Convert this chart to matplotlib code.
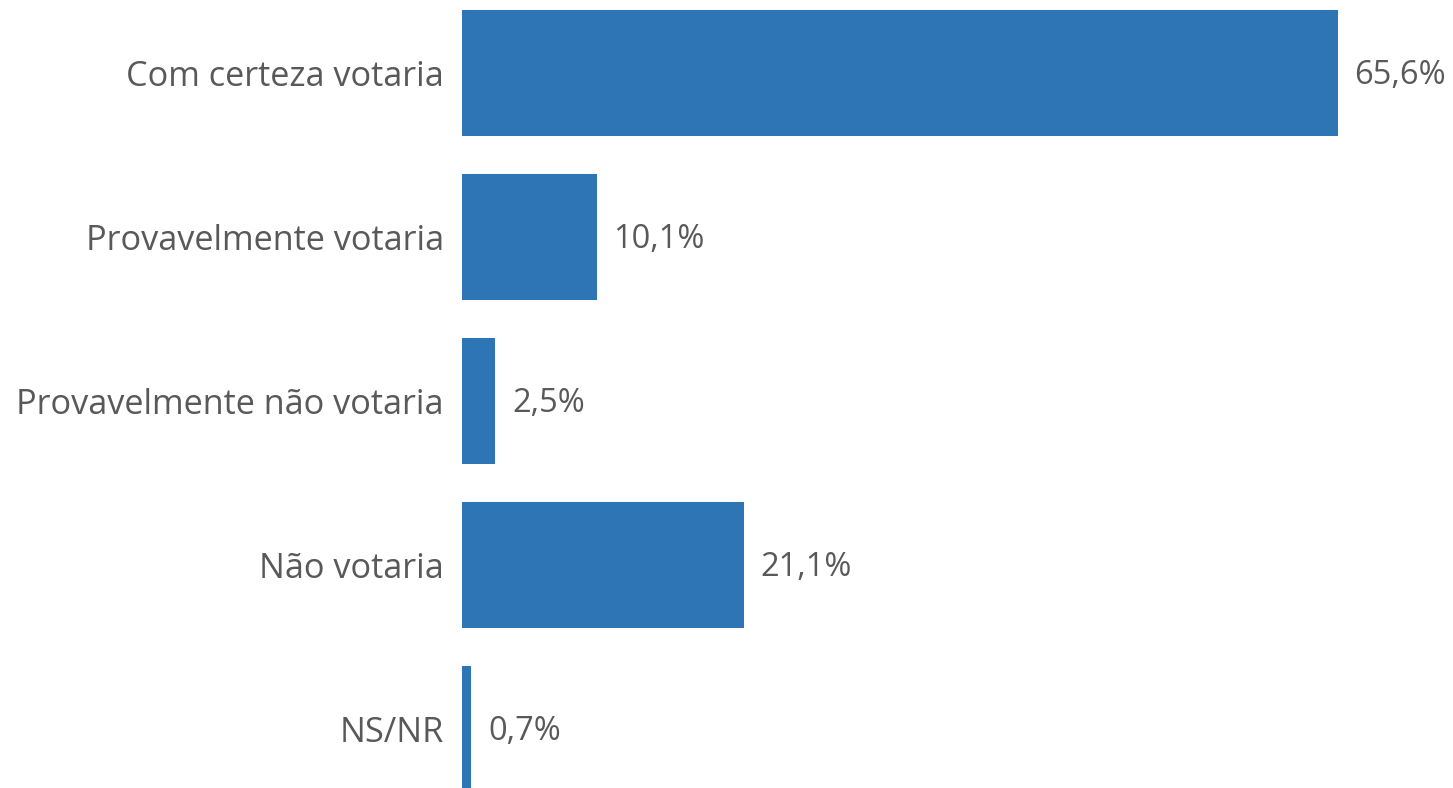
import matplotlib.pyplot as plt

categories = ["Com certeza votaria", "Provavelmente votaria",
              "Provavelmente não votaria", "Não votaria", "NS/NR"]
values = [65.6, 10.1, 2.5, 21.1, 0.7]
labels = ["65,6%", "10,1%", "2,5%", "21,1%", "0,7%"]

W, H = 1453, 788
fig = plt.figure(figsize=(W / 100, H / 100), dpi=100)
ax = fig.add_axes([462 / W, 0, 1 - 462 / W, 1])

y = list(range(len(categories)))
ax.barh(y, values, height=0.768, color="#2E75B6")

ax.set_xlim(0, (W - 462) / 13.35)
ax.set_ylim((788 - 73) / 164, -73 / 164)

for yi, v, lab in zip(y, values, labels):
    ax.annotate(lab, (v, yi), xytext=(12, -2), textcoords="offset points",
                va="center", ha="left", fontsize=23.5, color="#595959",
                family="Open Sans")

ax.set_yticks(y)
ax.set_yticklabels(categories, fontsize=24.7, color="#595959", family="Open Sans")
ax.tick_params(axis="y", length=0, pad=13)
ax.set_xticks([])
for s in ax.spines.values():
    s.set_visible(False)

fig.savefig("out.png", dpi=100)
